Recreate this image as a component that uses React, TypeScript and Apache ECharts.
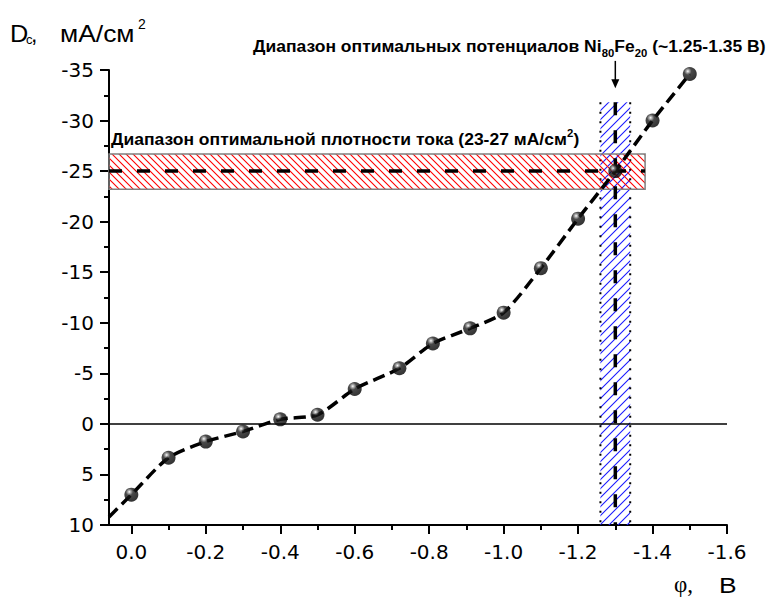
import React, { useEffect, useRef } from "react";
import * as echarts from "echarts";

// ---- data ----
const phi = [0, -0.1, -0.2, -0.3, -0.4, -0.5, -0.6, -0.72, -0.81, -0.91, -1.0, -1.1, -1.2, -1.3, -1.4, -1.5];
const dc = [7.0, 3.35, 1.75, 0.75, -0.45, -0.9, -3.45, -5.5, -7.95, -9.45, -11.0, -15.4, -20.3, -25.0, -30.0, -34.6];
const curveStartPhi = 0.06;
const curveStartDc = 9.2;
const xTickValues = [0, -0.2, -0.4, -0.6, -0.8, -1.0, -1.2, -1.4, -1.6];
const currentBandPhi = [0.06, -1.38];
const currentBandDc = [-23.2, -26.7];
const potentialBandPhi = [-1.26, -1.34];
const potentialBandDc = [-31.8, 10];
const optimalDc = -25;
const optimalPhi = -1.3;
const arrowDc = [-35.9, -33.2];

const SANS = "Liberation Sans, Arial, sans-serif";
const TICKFONT = "DejaVu Sans, sans-serif";
const SERIF = "Liberation Serif, Times New Roman, serif";

function hatch(color: string, s: number, dir: "back" | "fwd") {
  const d =
    dir === "back"
      ? `M0,0 L${s},${s} M-1,${s - 1} L1,${s + 1} M${s - 1},-1 L${s + 1},1`
      : `M0,${s} L${s},0 M-1,1 L1,-1 M${s - 1},${s + 1} L${s + 1},${s - 1}`;
  const svg = `<svg xmlns="http://www.w3.org/2000/svg" width="${s}" height="${s}"><path d="${d}" stroke="${color}" stroke-width="1.1" fill="none"/></svg>`;
  return {
    image: "data:image/svg+xml;charset=utf-8," + encodeURIComponent(svg),
    repeat: "repeat",
    imageWidth: s,
    imageHeight: s,
  };
}

export default function App() {
  const ref = useRef<HTMLDivElement>(null);

  useEffect(() => {
    const chart = echarts.init(ref.current!, null, { renderer: "svg" });
    const redPattern = hatch("#ff0000", 7, "back");
    const bluePattern = hatch("#1a1aff", 9, "fwd");

    const sphere = {
      type: "radial",
      x: 0.36,
      y: 0.3,
      r: 0.72,
      colorStops: [
        { offset: 0, color: "#ffffff" },
        { offset: 0.12, color: "#a8a8a8" },
        { offset: 0.36, color: "#1c1c1c" },
        { offset: 1, color: "#000000" },
      ],
    };

    const bandRect = (params: any, api: any) => {
      const a = api.coord([api.value(0), api.value(2)]);
      const b = api.coord([api.value(1), api.value(3)]);
      return {
        x: Math.min(a[0], b[0]),
        y: Math.min(a[1], b[1]),
        width: Math.abs(a[0] - b[0]),
        height: Math.abs(a[1] - b[1]),
      };
    };

    chart.setOption({
      animation: false,
      grid: { left: 109, right: 40, top: 70, bottom: 73 },
      xAxis: {
        type: "value",
        min: -1.6,
        max: 0.06,
        interval: 0.2,
        inverse: true,
        splitLine: { show: false },
        axisLine: { onZero: false, lineStyle: { color: "#000", width: 2 } },
        axisTick: { length: 9, lineStyle: { color: "#000", width: 2 }, customValues: xTickValues },
        minorTick: { show: true, splitNumber: 2, length: 5, lineStyle: { color: "#000", width: 2 } },
        axisLabel: {
          customValues: xTickValues,
          formatter: (v: number) => v.toFixed(1),
          fontFamily: TICKFONT,
          fontSize: 20,
          color: "#000",
          margin: 17,
        },
      },
      yAxis: {
        type: "value",
        min: -35,
        max: 10,
        interval: 5,
        inverse: true,
        splitLine: { show: false },
        axisLine: { onZero: false, lineStyle: { color: "#000", width: 2 } },
        axisTick: { length: 9, lineStyle: { color: "#000", width: 2 } },
        minorTick: { show: true, splitNumber: 2, length: 5, lineStyle: { color: "#000", width: 2 } },
        axisLabel: {
          formatter: (v: number) => String(v),
          fontFamily: TICKFONT,
          fontSize: 20,
          color: "#000",
          margin: 15,
        },
      },
      series: [
        {
          type: "custom",
          name: "potentialBand",
          z: 1,
          clip: false,
          silent: true,
          encode: { x: [0, 1], y: [2, 3] },
          data: [[potentialBandPhi[0], potentialBandPhi[1], potentialBandDc[0], potentialBandDc[1]]],
          renderItem: (params: any, api: any) => {
            const r = bandRect(params, api);
            return {
              type: "group",
              children: [
                { type: "rect", shape: r, style: { fill: bluePattern, stroke: null } },
                {
                  type: "line",
                  shape: { x1: r.x, y1: r.y, x2: r.x, y2: r.y + r.height },
                  style: { stroke: "#000", lineWidth: 2, lineDash: [2, 7.5] },
                },
                {
                  type: "line",
                  shape: { x1: r.x + r.width, y1: r.y, x2: r.x + r.width, y2: r.y + r.height },
                  style: { stroke: "#000", lineWidth: 2, lineDash: [2, 7.5] },
                },
              ],
            };
          },
        },
        {
          type: "custom",
          name: "currentBand",
          z: 2,
          clip: false,
          silent: true,
          encode: { x: [0, 1], y: [2, 3] },
          data: [[currentBandPhi[0], currentBandPhi[1], currentBandDc[0], currentBandDc[1]]],
          renderItem: (params: any, api: any) => {
            const r = bandRect(params, api);
            return {
              type: "rect",
              shape: r,
              style: { fill: redPattern, stroke: "#808080", lineWidth: 1.5 },
            };
          },
        },
        {
          type: "line",
          name: "optimalCurrent",
          z: 3,
          silent: true,
          symbol: "none",
          data: [
            [currentBandPhi[0], optimalDc],
            [currentBandPhi[1], optimalDc],
          ],
          lineStyle: { color: "#000", width: 3.5, type: [13, 15] },
          markLine: {
            silent: true,
            symbol: "none",
            label: { show: false },
            lineStyle: { color: "#000", width: 1.5, type: "solid" },
            data: [{ yAxis: 0 }],
          },
        },
        {
          type: "line",
          name: "optimalPotential",
          z: 3,
          silent: true,
          symbol: "none",
          data: [
            [optimalPhi, potentialBandDc[0]],
            [optimalPhi, potentialBandDc[1]],
          ],
          lineStyle: { color: "#000", width: 3.5, type: [13, 15] },
        },
        {
          type: "line",
          name: "curve",
          z: 4,
          silent: true,
          symbol: "none",
          smooth: 0.25,
          data: [[curveStartPhi, curveStartDc], ...phi.map((p, i) => [p, dc[i]])],
          lineStyle: { color: "#000", width: 3.5, type: [12, 6] },
        },
        {
          type: "scatter",
          name: "points",
          z: 5,
          symbol: "circle",
          symbolSize: 14,
          data: phi.map((p, i) => [p, dc[i]]),
          itemStyle: { color: sphere, borderWidth: 0 },
        },
      ],
    });

    const a0 = chart.convertToPixel({ gridIndex: 0 }, [optimalPhi, arrowDc[0]]) as number[];
    const a1 = chart.convertToPixel({ gridIndex: 0 }, [optimalPhi, arrowDc[1]]) as number[];

    chart.setOption({
      graphic: [
        // y axis title
        { type: "text", x: 10, y: 34, scaleX: 1.1, style: { text: "D", fontFamily: SANS, fontSize: 23, fill: "#000", align: "left", verticalAlign: "middle" } },
        { type: "text", x: 26, y: 39.5, style: { text: "c", fontFamily: SANS, fontSize: 13, fill: "#000", align: "left", verticalAlign: "middle" } },
        { type: "text", x: 31, y: 34, style: { text: ",", fontFamily: SANS, fontSize: 23, fill: "#000", align: "left", verticalAlign: "middle" } },
        { type: "text", x: 60, y: 34, scaleX: 1.15, style: { text: "мА/см", fontFamily: SANS, fontSize: 23, fill: "#000", align: "left", verticalAlign: "middle" } },
        { type: "text", x: 138, y: 24, style: { text: "2", fontFamily: SANS, fontSize: 14, fill: "#000", align: "left", verticalAlign: "middle" } },
        // x axis title
        { type: "text", x: 674, y: 584, style: { text: "φ,", fontFamily: SERIF, fontSize: 23, fill: "#000", align: "left", verticalAlign: "middle" } },
        { type: "text", x: 719, y: 585, scaleX: 1.2, style: { text: "В", fontFamily: SANS, fontSize: 22, fill: "#000", align: "left", verticalAlign: "middle" } },
        // top annotation
        {
          type: "text",
          x: 253,
          y: 46.5,
          scaleX: 1.03,
          style: {
            text: "{b|Диапазон оптимальных потенциалов Ni}{s|80}{b|Fe}{s|20}{b| (~1.25-1.35 В)}",
            align: "left",
            verticalAlign: "middle",
            rich: {
              b: { fontFamily: SANS, fontWeight: "bold", fontSize: 17, lineHeight: 24, verticalAlign: "middle", fill: "#000" },
              s: { fontFamily: SANS, fontWeight: "bold", fontSize: 11, lineHeight: 11, verticalAlign: "bottom", fill: "#000" },
            },
          },
        },
        // band annotation
        {
          type: "text",
          x: 111,
          y: 139,
          scaleX: 1.03,
          style: {
            text: "{b|Диапазон оптимальной плотности тока (23-27 мА/см}{p|2}{b|)}",
            align: "left",
            verticalAlign: "middle",
            rich: {
              b: { fontFamily: SANS, fontWeight: "bold", fontSize: 17, lineHeight: 22, verticalAlign: "middle", fill: "#000" },
              p: { fontFamily: SANS, fontWeight: "bold", fontSize: 11, lineHeight: 11, verticalAlign: "top", fill: "#000" },
            },
          },
        },
        // arrow
        {
          type: "line",
          shape: { x1: a0[0], y1: a0[1], x2: a1[0], y2: a1[1] - 8 },
          style: { stroke: "#000", lineWidth: 1.5 },
        },
        {
          type: "polygon",
          shape: { points: [[a1[0] - 4, a1[1] - 9], [a1[0] + 4, a1[1] - 9], [a1[0], a1[1]]] },
          style: { fill: "#000" },
        },
      ],
    });

    return () => chart.dispose();
  }, []);

  return (
    <div
      ref={ref}
      style={{ position: "fixed", left: 0, top: 0, width: 767, height: 598, background: "#fff" }}
    />
  );
}
